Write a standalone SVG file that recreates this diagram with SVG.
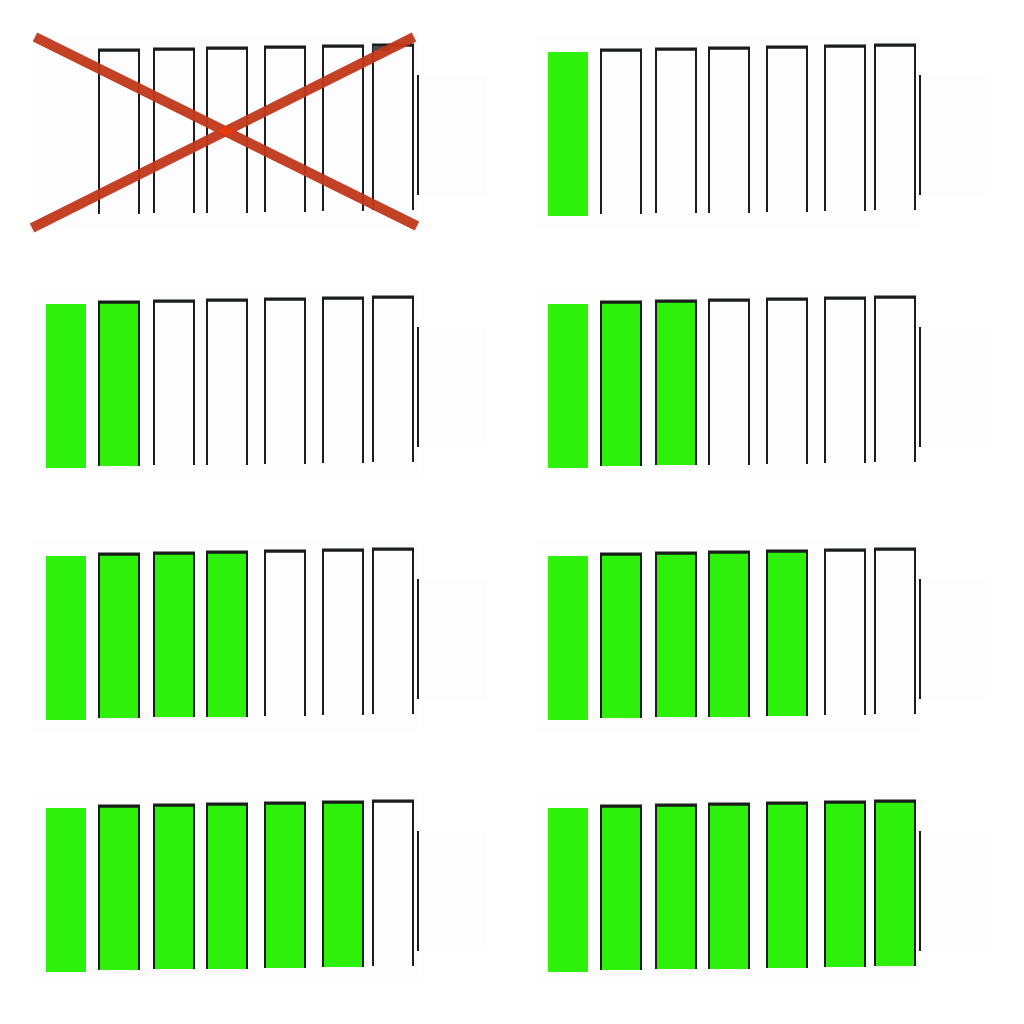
<svg xmlns="http://www.w3.org/2000/svg" xmlns:xlink="http://www.w3.org/1999/xlink" width="1024" height="1024" viewBox="0 0 1024 1024">
<style>
.bg{fill:#fdfdfd}
.fill{fill:#2df00b}
.side{fill:none;stroke:#1b1d1c;stroke-width:2}
.top{fill:#1b1d1c}
.cross{stroke:#c0391b;stroke-width:10;stroke-linecap:butt;opacity:0.95}
</style>
<defs>
<g id="frame">
<rect class="bg" x="534" y="35" width="387" height="192"/>
<rect class="bg" x="921" y="75" width="68" height="120"/>
</g>
<g id="outlines">
<path class="side" d="M601,214V50.5H641V214"/>
<rect class="top" x="600" y="48.5" width="42" height="3"/>
<path class="side" d="M656,213V49.5H696V213"/>
<rect class="top" x="655" y="47.5" width="42" height="3"/>
<path class="side" d="M709,213V48.5H749V213"/>
<rect class="top" x="708" y="46.5" width="42" height="3"/>
<path class="side" d="M767,212V47.5H807V212"/>
<rect class="top" x="766" y="45.5" width="42" height="3"/>
<path class="side" d="M825,211V46.5H865V211"/>
<rect class="top" x="824" y="44.5" width="42" height="3"/>
<path class="side" d="M875,210V45.5H915V210"/>
<rect class="top" x="874" y="43.5" width="42" height="3"/>
<path class="side" d="M920,75V195"/>
</g>
<rect id="g1" class="fill" x="548" y="52" width="40" height="164"/>
<rect id="g2" class="fill" x="600" y="50" width="42" height="164"/>
<rect id="g3" class="fill" x="655" y="49" width="42" height="164"/>
<rect id="g4" class="fill" x="708" y="48" width="42" height="165"/>
<rect id="g5" class="fill" x="766" y="47" width="42" height="165"/>
<rect id="g6" class="fill" x="824" y="46" width="42" height="165"/>
<rect id="g7" class="fill" x="874" y="45" width="42" height="165"/>
</defs>

<g id="panel1" transform="translate(-502,0)">
<use xlink:href="#frame"/>
<use xlink:href="#outlines"/>
<rect x="875" y="46" width="17" height="5" fill="#4a4a4a"/>
</g>

<g id="panel2" transform="translate(0,0)">
<use xlink:href="#frame"/>
<use xlink:href="#g1"/>
<use xlink:href="#outlines"/>
</g>

<g id="panel3" transform="translate(-502,252)">
<use xlink:href="#frame"/>
<use xlink:href="#g1"/><use xlink:href="#g2"/>
<use xlink:href="#outlines"/>
</g>

<g id="panel4" transform="translate(0,252)">
<use xlink:href="#frame"/>
<use xlink:href="#g1"/><use xlink:href="#g2"/><use xlink:href="#g3"/>
<use xlink:href="#outlines"/>
</g>

<g id="panel5" transform="translate(-502,504)">
<use xlink:href="#frame"/>
<use xlink:href="#g1"/><use xlink:href="#g2"/><use xlink:href="#g3"/><use xlink:href="#g4"/>
<use xlink:href="#outlines"/>
</g>

<g id="panel6" transform="translate(0,504)">
<use xlink:href="#frame"/>
<use xlink:href="#g1"/><use xlink:href="#g2"/><use xlink:href="#g3"/><use xlink:href="#g4"/><use xlink:href="#g5"/>
<use xlink:href="#outlines"/>
</g>

<g id="panel7" transform="translate(-502,756)">
<use xlink:href="#frame"/>
<use xlink:href="#g1"/><use xlink:href="#g2"/><use xlink:href="#g3"/><use xlink:href="#g4"/><use xlink:href="#g5"/><use xlink:href="#g6"/>
<use xlink:href="#outlines"/>
</g>

<g id="panel8" transform="translate(0,756)">
<use xlink:href="#frame"/>
<use xlink:href="#g1"/><use xlink:href="#g2"/><use xlink:href="#g3"/><use xlink:href="#g4"/><use xlink:href="#g5"/><use xlink:href="#g6"/><use xlink:href="#g7"/>
<use xlink:href="#outlines"/>
</g>

<g id="cross">
<line class="cross" x1="35" y1="37" x2="417" y2="226"/>
<line class="cross" x1="32" y1="228" x2="414" y2="37"/>
<polygon points="216,131 226,126 236,131 226,136" fill="#e63a0c"/>
</g>
</svg>
